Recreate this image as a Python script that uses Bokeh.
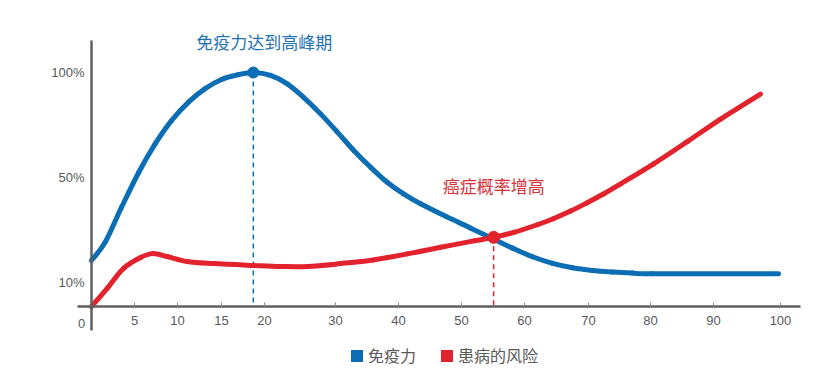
import numpy as np
from bokeh.plotting import figure
from bokeh.models import Range1d, LinearAxis, FixedTicker, Legend, LegendItem, Label, ColumnDataSource
from bokeh.embed import file_html
from bokeh.resources import INLINE

# ---------------- data ----------------
AGE_TICKS = [0, 5, 10, 15, 20, 30, 40, 50, 60, 70, 80, 90, 100]
AGE_TICK_LABELS = ["0", "5", "10", "15", "20", "30", "40", "50", "60", "70", "80", "90", "100"]
PCT_TICKS = [10, 50, 100]
PCT_TICK_LABELS = ["10%", "50%", "100%"]

SERIES_NAMES = ["免疫力", "患病的风险"]

immune_age = [0, 1.6, 3.5, 5.5, 7.4, 9.3, 11.25, 13.1, 15.0, 17.0, 18.7, 20.85, 23.2, 25.5, 27.9,
              30.3, 32.9, 35.6, 38.2, 40.8, 43.5, 47.5, 51.4, 54.9, 58.1, 61.25, 64.4, 67.5, 70.6,
              73.9, 77.1, 80.3, 99.7]
immune_pct = [18.4, 25.4, 38.7, 52.5, 66.0, 77.1, 85.9, 92.2, 96.7, 99.0, 100, 98.6, 94.6, 88.2, 80.3,
              71.6, 62.9, 54.8, 48.2, 43.8, 40.0, 35.2, 30.8, 26.8, 23.1, 19.8, 17.3, 15.6, 14.6,
              14.0, 13.6, 13.35, 13.3]

risk_age = [0, 1.9, 3.7, 5.7, 7.1, 8.8, 11.1, 14.1, 18.7, 22.3, 26.1, 30.8, 36.0, 41.4, 46.7,
            51.95, 55.1, 58.3, 62.0, 64.5, 67.2, 69.8, 72.4, 75.2, 80.5, 85.9, 91.0, 97.0]
risk_pct = [0, 7.9, 15.3, 19.5, 21.0, 19.9, 18.0, 17.2, 16.5, 16.1, 16.1, 17.2, 18.6, 20.9, 23.4,
            25.85, 27.2, 29.1, 32.0, 34.3, 37.2, 40.4, 43.7, 47.6, 56.5, 67.2, 77.7, 89.7]

PEAK_AGE, PEAK_PCT = 18.7, 100
CROSS_AGE, CROSS_PCT = 55.1, 27.2
PEAK_TEXT = "免疫力达到高峰期"
CROSS_TEXT = "癌症概率增高"

# ---------------- broken-axis scale (layout) ----------------
X_STOPS = [0, 43, 86, 130, 173, 244, 307, 370, 433, 497, 559, 622, 689]
Y_STOPS_PCT = [0, 10, 50, 100]
Y_STOPS = [0, 24, 129, 234]


def xmap(a):
    return np.interp(np.asarray(a, dtype=float), AGE_TICKS, X_STOPS)


def ymap(v):
    return np.interp(np.asarray(v, dtype=float), Y_STOPS_PCT, Y_STOPS)


def smooth_segments(xs, ys):
    """Catmull-Rom -> cubic bezier segments (rendering style: smooth line)."""
    x = np.asarray(xs, dtype=float)
    y = np.asarray(ys, dtype=float)
    xp = np.concatenate([[x[0]], x, [x[-1]]])
    yp = np.concatenate([[y[0]], y, [y[-1]]])
    n = len(x) - 1
    x0 = x[:-1]; y0 = y[:-1]; x1 = x[1:]; y1 = y[1:]
    cx0 = xp[1:n + 1] + (xp[2:n + 2] - xp[0:n]) / 6.0
    cy0 = yp[1:n + 1] + (yp[2:n + 2] - yp[0:n]) / 6.0
    cx1 = xp[2:n + 2] - (xp[3:n + 3] - xp[1:n + 1]) / 6.0
    cy1 = yp[2:n + 2] - (yp[3:n + 3] - yp[1:n + 1]) / 6.0
    return dict(x0=x0, y0=y0, x1=x1, y1=y1, cx0=cx0, cy0=cy0, cx1=cx1, cy1=cy1)


BLUE = "#0b6db4"
RED = "#e2222c"
GRAY = "#595959"
AXIS = "#5f5f5f"

p = figure(width=808, height=375, x_range=Range1d(-91, 717), y_range=Range1d(-69, 306),
           x_axis_location=None, y_axis_location=None, toolbar_location=None,
           output_backend="svg", min_border=0)
p.outline_line_color = None
p.grid.visible = False
p.background_fill_color = "white"

# axes
xt = [int(v) for v in X_STOPS[1:]]
xaxis = LinearAxis(fixed_location=0, bounds=(-14, 709), ticker=FixedTicker(ticks=xt),
                   major_label_overrides={t: l for t, l in zip(xt, AGE_TICK_LABELS[1:])})
xaxis.axis_line_color = AXIS
xaxis.axis_line_width = 2.5
xaxis.major_tick_in = 4
xaxis.major_tick_out = 0
xaxis.major_tick_line_color = "#8a8a8a"
xaxis.major_tick_line_width = 1
xaxis.minor_tick_line_color = None
xaxis.major_label_standoff = 9
xaxis.major_label_text_font = "Liberation Sans"
xaxis.major_label_text_font_size = "13px"
xaxis.major_label_text_color = GRAY
p.add_layout(xaxis, "below")

yt = [int(round(float(v))) for v in ymap(PCT_TICKS)]
yaxis = LinearAxis(fixed_location=0, bounds=(-24, 266), ticker=FixedTicker(ticks=yt),
                   major_label_overrides={t: l for t, l in zip(yt, PCT_TICK_LABELS)})
yaxis.axis_line_color = AXIS
yaxis.axis_line_width = 2.5
yaxis.major_tick_in = 0
yaxis.major_tick_out = 0
yaxis.minor_tick_line_color = None
yaxis.major_label_standoff = 7
yaxis.major_label_text_font = "Liberation Sans"
yaxis.major_label_text_font_size = "13px"
yaxis.major_label_text_color = GRAY
p.add_layout(yaxis, "left")

p.add_layout(Label(x=-10, y=-17, text=AGE_TICK_LABELS[0], text_align="center", text_baseline="middle",
                   text_font="Liberation Sans", text_font_size="13px", text_color=GRAY))

# dashed guides
p.segment(x0=xmap([PEAK_AGE]), y0=ymap([PEAK_PCT]), x1=xmap([PEAK_AGE]), y1=[0],
          line_color=BLUE, line_width=1.5, line_dash="5 4")
p.segment(x0=xmap([CROSS_AGE]), y0=ymap([CROSS_PCT]), x1=xmap([CROSS_AGE]), y1=[0],
          line_color=RED, line_width=1.5, line_dash="5 4")

# curves (smooth lines through the read points)
p.bezier(source=ColumnDataSource(smooth_segments(xmap(immune_age), ymap(immune_pct))),
         x0="x0", y0="y0", x1="x1", y1="y1", cx0="cx0", cy0="cy0", cx1="cx1", cy1="cy1",
         line_color=BLUE, line_width=5, line_cap="round")
p.bezier(source=ColumnDataSource(smooth_segments(xmap(risk_age), ymap(risk_pct))),
         x0="x0", y0="y0", x1="x1", y1="y1", cx0="cx0", cy0="cy0", cx1="cx1", cy1="cy1",
         line_color=RED, line_width=5, line_cap="round")

p.scatter(xmap([PEAK_AGE]), ymap([PEAK_PCT]), size=11, color=BLUE)
p.scatter(xmap([CROSS_AGE]), ymap([CROSS_PCT]), size=12, color=RED)

# annotations
p.add_layout(Label(x=float(xmap(PEAK_AGE)), y=float(ymap(PEAK_PCT)), x_offset=11, y_offset=31,
                   text=PEAK_TEXT, text_align="center", text_baseline="middle",
                   text_font="Noto Sans CJK SC", text_font_size="17px", text_color="#1f73b4"))
p.add_layout(Label(x=float(xmap(CROSS_AGE)), y=float(ymap(CROSS_PCT)), x_offset=0, y_offset=52,
                   text=CROSS_TEXT, text_align="center", text_baseline="middle",
                   text_font="Noto Sans CJK SC", text_font_size="17px", text_color="#d8313a"))

# legend (square swatches)
nan = np.array([np.nan])
src = ColumnDataSource(data=dict(l=nan, r=nan, b=nan, t=nan))
r_blue = p.quad(left="l", right="r", bottom="b", top="t", source=src, fill_color=BLUE, line_color=None)
r_red = p.quad(left="l", right="r", bottom="b", top="t", source=src, fill_color=RED, line_color=None)
legend = Legend(items=[LegendItem(label=SERIES_NAMES[0], renderers=[r_blue]),
                       LegendItem(label=SERIES_NAMES[1], renderers=[r_red])],
                orientation="horizontal", location=(349, 8), padding=0, margin=0,
                spacing=23, label_standoff=4, glyph_width=15, glyph_height=15,
                label_text_font="Noto Sans CJK SC", label_text_font_size="16px",
                label_text_color=GRAY, border_line_color=None, background_fill_alpha=0)
p.add_layout(legend, "center")

open("out.html", "w").write(file_html(p, INLINE))
